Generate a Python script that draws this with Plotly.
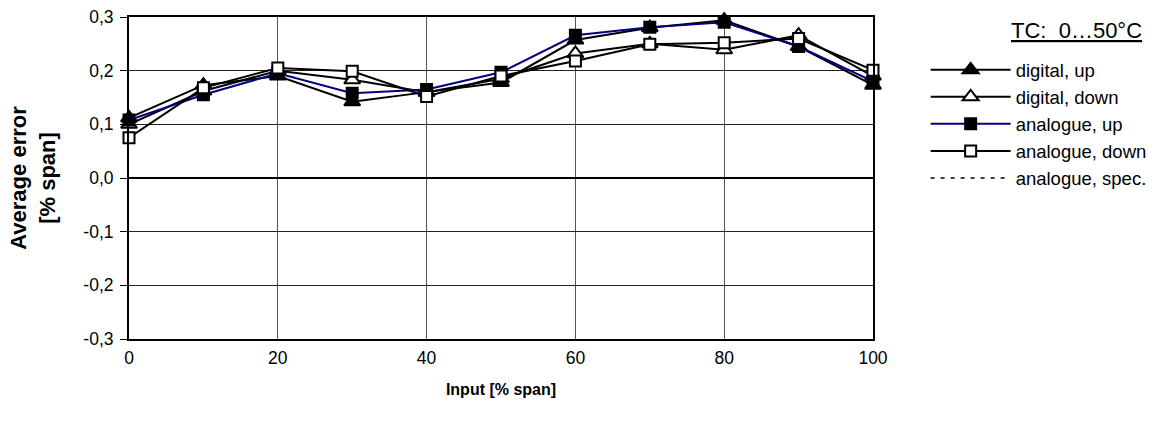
import plotly.graph_objects as go

x_input = [0, 10, 20, 30, 40, 50, 60, 70, 80, 90, 100]
digital_up = [0.112, 0.173, 0.190, 0.142, 0.160, 0.178, 0.257, 0.280, 0.294, 0.245, 0.173]
digital_down = [0.100, 0.162, 0.200, 0.183, 0.160, 0.185, 0.232, 0.250, 0.239, 0.266, 0.190]
analogue_up = [0.108, 0.155, 0.195, 0.158, 0.165, 0.197, 0.266, 0.281, 0.290, 0.245, 0.180]
analogue_down = [0.075, 0.168, 0.205, 0.199, 0.152, 0.190, 0.218, 0.249, 0.252, 0.260, 0.201]
analogue_spec = [None] * len(x_input)  # outside visible range

y_tickvals = [-0.3, -0.2, -0.1, 0.0, 0.1, 0.2, 0.3]
y_ticktext = ["-0,3", "-0,2", "-0,1", "0,0", "0,1", "0,2", "0,3"]
x_tickvals = [0, 20, 40, 60, 80, 100]

FONT = "Liberation Sans, Arial, sans-serif"

fig = go.Figure()

def add(name, y, symbol, fill, line_color, size):
    fig.add_trace(go.Scatter(
        x=x_input, y=y, name=name, mode="lines+markers",
        line=dict(color=line_color, width=2),
        marker=dict(symbol=symbol, size=size, color=fill,
                    line=dict(color="black", width=2)),
        cliponaxis=False, legendgroup=name,
    ))

add("digital, up", digital_up, "triangle-up", "black", "black", 14)
add("digital, down", digital_down, "triangle-up", "white", "black", 14)
add("analogue, up", analogue_up, "square", "black", "#000080", 11)
add("analogue, down", analogue_down, "square", "white", "black", 11)
fig.add_trace(go.Scatter(
    x=x_input, y=analogue_spec, name="analogue, spec.", mode="lines",
    line=dict(color="black", width=1.5, dash="4px,6px"), legendgroup="spec",
))

fig.update_layout(
    width=1172, height=427,
    margin=dict(l=129, r=299, t=17, b=88, autoexpand=False),
    paper_bgcolor="white", plot_bgcolor="white",
    font=dict(family=FONT, size=17.5, color="black"),
    showlegend=True,
    legend=dict(
        xref="container", yref="container",
        x=0.7898, y=0.880, xanchor="left", yanchor="top",
        font=dict(family=FONT, size=18.5, color="black"),
        itemwidth=80, tracegroupgap=0, traceorder="normal",
        bgcolor="rgba(0,0,0,0)", borderwidth=0,
    ),
    annotations=[dict(
        text="<u>TC:\u00a0\u00a00\u202650°C</u>", xref="paper", yref="paper",
        x=(1144 - 129) / 744, y=(339 - 31) / 322, xanchor="right", yanchor="middle",
        showarrow=False, font=dict(family=FONT, size=22, color="black"),
    )],
)
fig.update_xaxes(
    range=[0, 100], tickvals=x_tickvals, showgrid=True, gridcolor="#555555", gridwidth=1,
    showline=True, linecolor="black", linewidth=2, mirror=True,
    ticks="", ticklabelstandoff=2, zeroline=False, automargin=False,
    title=dict(text="<b>Input [% span]</b>", font=dict(size=16), standoff=17),
)
fig.update_yaxes(
    range=[-0.3, 0.3], tickvals=y_tickvals, ticktext=y_ticktext,
    showgrid=True, gridcolor="#222222", gridwidth=1,
    showline=True, linecolor="black", linewidth=2, mirror=True,
    ticks="outside", ticklen=7, tickcolor="black", tickwidth=1, ticklabelstandoff=3,
    zeroline=True, zerolinecolor="black", zerolinewidth=2, automargin=False,
    title=dict(text="<b>Average error<br>[% span]</b>", font=dict(size=22), standoff=22),
)

fig.write_html("out.html", config={"displayModeBar": False},
               post_script="document.body.style.margin='0';")
